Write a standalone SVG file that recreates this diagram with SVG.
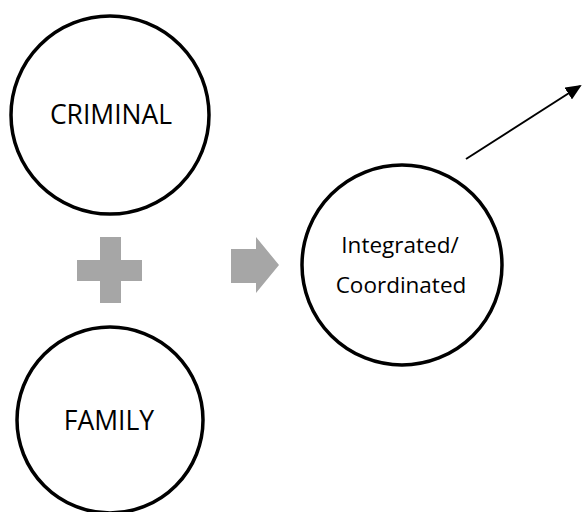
<svg xmlns="http://www.w3.org/2000/svg" width="582" height="512" viewBox="0 0 582 512">
<style>
.node{fill:#fff;stroke:#000;stroke-width:3.5}
.lbl{font-family:"Open Sans","Liberation Sans",sans-serif;fill:#000;text-anchor:middle}
.big{font-size:26.5px}
.sm{font-size:22.5px}
.sym{fill:#A6A6A6}
</style>
<defs>
<marker id="ah" markerWidth="8" markerHeight="7" refX="7" refY="3.5" orient="auto" markerUnits="strokeWidth">
<path d="M0,0 L8,3.5 L0,7 Z" fill="#000"/>
</marker>
</defs>
<g id="criminal">
<circle class="node" cx="110" cy="115" r="99"/>
<text class="lbl big" x="111" y="124">CRIMINAL</text>
</g>
<g id="family">
<circle class="node" cx="110" cy="420" r="93"/>
<text class="lbl big" x="109" y="430">FAMILY</text>
</g>
<g id="plus">
<rect class="sym" x="77" y="260" width="65" height="21"/>
<rect class="sym" x="100" y="237" width="21" height="66"/>
</g>
<g id="block-arrow">
<polygon class="sym" points="231,249 256,249 256,237 279,265 256,293 256,283 231,283"/>
</g>
<g id="integrated">
<circle class="node" cx="402" cy="265" r="100"/>
<text class="lbl sm" x="400" y="253">Integrated/</text>
<text class="lbl sm" x="401" y="293">Coordinated</text>
</g>
<g id="connectors">
<line x1="466" y1="159" x2="580" y2="86" stroke="#000" stroke-width="2" marker-end="url(#ah)"/>
</g>
</svg>
